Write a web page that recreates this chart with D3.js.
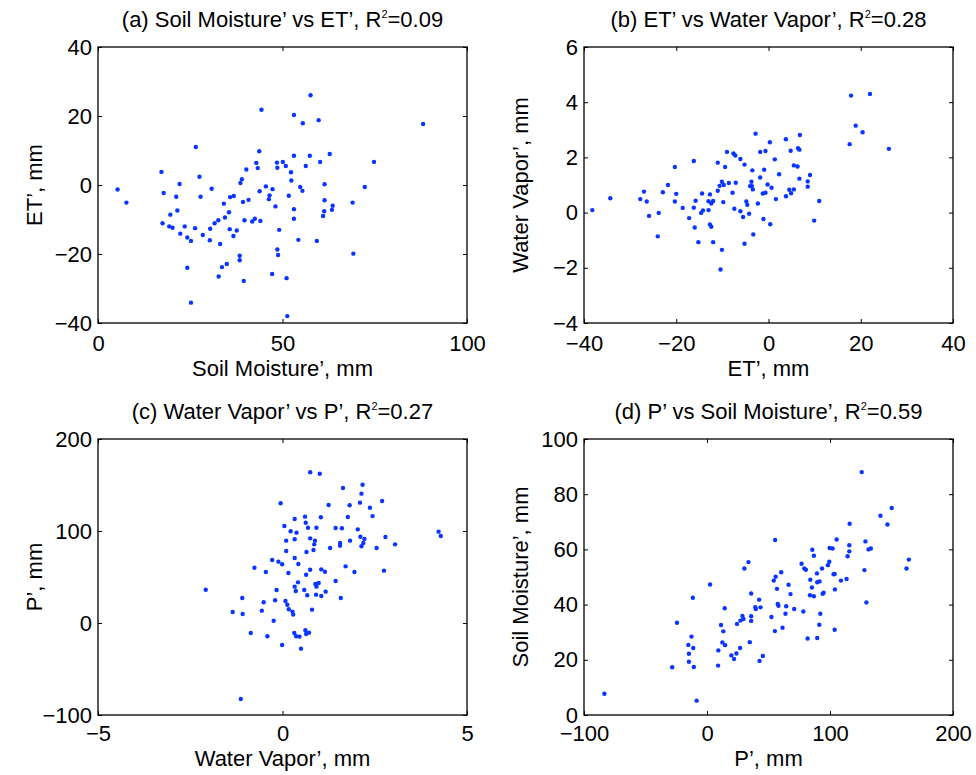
<!DOCTYPE html>
<html>
<head>
<meta charset="utf-8">
<script src="https://cdn.jsdelivr.net/npm/d3@7"></script>
<style>
  body { margin: 0; background: #fff; }
  text { font-family: "Liberation Sans", Arial, sans-serif; fill: #000; }
</style>
</head>
<body>
<svg id="chart" width="976" height="775"></svg>
<script>
// (a) soil moisture' vs ET'
const smEt = [
  [5.3,-1.3],[7.7,-5.1],[17.2,3.8],[17.8,-2.3],[17.5,-11.1],[19.3,-12.0],[20.2,-12.4],[19.6,-8.6],
  [22.1,0.3],[21.2,-3.4],[21.5,-7.4],[22.3,-14.1],[23.5,-12.0],[24.2,-15.2],[25.2,-16.2],[24.2,-24.0],
  [25.2,-34.1],[26.5,11.0],[27.5,2.4],[27.8,-3.4],[26.3,-12.5],[28.4,-14.5],[30.8,-1.1],[30.4,-12.7],
  [30.3,-16.0],[31.6,-11.1],[32.6,-10.2],[33.1,-17.1],[32.7,-26.5],[33.6,-23.8],[34.9,-22.9],[34.1,-5.4],
  [34.4,-9.4],[35.5,-7.9],[35.8,-3.5],[36.8,-3.2],[35.7,-12.8],[36.7,-14.8],[37.6,-13.2],[38.4,-20.5],
  [38.4,-21.8],[38.6,0.6],[39.0,1.7],[40.2,4.5],[39.3,-4.9],[39.7,-10.2],[39.5,-27.8],[40.8,-4.3],
  [41.8,-10.6],[42.5,-9.8],[44.0,-10.4],[42.9,6.4],[43.3,4.9],[43.7,9.8],[44.3,21.8],[43.8,-1.8],
  [45.5,-0.4],[46.5,-3.0],[46.3,-4.1],[47.3,-1.2],[48.1,-6.2],[48.5,6.5],[48.6,5.0],[49.1,-13.0],
  [48.6,-18.7],[48.8,-20.3],[47.2,-25.8],[50.1,6.7],[50.9,5.5],[52.3,3.7],[52.4,1.3],[51.7,-3.1],
  [53.1,8.5],[53.1,20.3],[55.5,17.9],[57.6,26.0],[59.8,18.8],[57.4,8.5],[56.3,5.5],[60.2,6.7],
  [62.8,9.0],[54.8,-0.6],[55.4,-1.7],[61.4,0.2],[53.1,-7.0],[53.1,-9.8],[61.4,-4.4],[61.3,-7.6],
  [61.0,-9.0],[63.6,-6.0],[63.4,-7.2],[54.3,-15.9],[59.3,-16.2],[51.1,-27.0],[51.3,-38.0],[69.0,-5.1],
  [72.3,-0.6],[74.8,6.7],[69.2,-19.9],[88.1,17.7]
];

// (b) ET' vs water vapor'
const etWv = [
  [-38.2,0.09],[-34.3,0.52],[-27.8,0.49],[-27.0,0.76],[-26.4,0.40],[-25.9,-0.12],[-24.0,-0.86],[-23.8,-0.01],
  [-22.9,0.74],[-21.8,1.0],[-20.3,1.65],[-20.0,0.68],[-20.3,0.40],[-18.6,0.17],[-17.2,-0.2],[-16.2,1.87],
  [-16.2,0.18],[-16.0,-0.54],[-15.8,0.43],[-15.2,-1.07],[-14.4,0.69],[-14.6,-0.01],[-14.2,0.08],[-13.0,0.09],
  [-13.0,0.41],[-12.7,0.66],[-12.7,-0.43],[-12.4,-0.51],[-12.4,0.33],[-12.0,0.42],[-12.0,-1.07],[-11.0,1.81],
  [-11.0,0.79],[-10.6,0.97],[-10.1,1.12],[-9.7,1.0],[-9.8,0.38],[-10.1,-1.35],[-10.4,-2.06],[-9.4,1.65],
  [-9.0,2.2],[-8.6,1.07],[-7.8,0.72],[-7.6,2.14],[-7.2,2.07],[-7.1,1.08],[-7.4,0.14],[-6.1,1.94],
  [-6.1,0.05],[-5.5,-0.16],[-5.2,-1.13],[-5.2,1.74],[-4.8,0.40],[-4.6,0.28],[-4.2,-0.04],[-4.0,0.96],
  [-3.7,1.12],[-3.6,0.96],[-3.5,1.53],[-3.4,0.84],[-3.3,-0.79],[-2.8,2.86],[-2.3,0.33],[-1.8,2.2],
  [-1.8,1.27],[-0.65,2.23],[-0.94,1.55],[-1.24,0.69],[-0.65,0.72],[-1.1,-0.23],[0.37,-0.42],[0.30,2.55],
  [1.37,1.93],[-0.2,1.02],[0.66,0.90],[1.6,0.49],[2.3,1.39],[3.77,2.66],[4.8,2.24],[4.5,0.83],
  [4.9,0.70],[5.5,0.84],[3.8,0.59],[5.5,1.71],[6.3,1.67],[6.4,2.33],[6.7,2.28],[6.8,2.81],
  [6.7,1.23],[8.5,1.13],[9.0,1.36],[8.5,0.94],[11.0,0.42],[9.9,-0.29],[17.6,2.48],[17.9,4.24],
  [18.9,3.15],[20.4,2.91],[22.0,4.30],[26.1,2.31]
];

// (c) water vapor' vs P'
const wvP = [
  [-2.08,36.2],[-1.13,-82.6],[-1.09,27.2],[-1.35,12.0],[-1.08,9.8],[-0.86,-10.9],[-0.76,60.1],[-0.51,22.5],
  [-0.56,13.4],[-0.45,55.4],[-0.41,-14.4],[-0.28,68.5],[-0.24,2.5],[-0.2,24.7],[-0.16,35.9],[-0.11,66.7],
  [-0.05,130.1],[-0.01,63.8],[-0.01,-23.9],[0.05,105.4],[0.10,89.5],[0.10,78.3],[0.08,23.9],[0.13,19.9],
  [0.17,14.9],[0.16,54.4],[0.22,99.7],[0.27,12.4],[0.29,9.3],[0.32,-10.9],[0.37,-14.4],[0.46,-14.8],
  [0.50,-27.9],[0.33,113.1],[0.33,91.0],[0.33,70.7],[0.38,98.2],[0.43,64.1],[0.33,39.5],[0.36,34.8],
  [0.42,44.2],[0.59,35.9],[0.61,115.6],[0.63,109.0],[0.69,103.6],[0.62,-7.9],[0.64,-11.9],[0.72,-10.5],
  [0.64,52.5],[0.65,77.2],[0.67,30.1],[0.75,163.8],[1.01,162.3],[0.75,92.0],[0.88,89.5],[0.86,85.5],
  [0.84,79.4],[0.92,103.6],[1.04,114.9],[0.75,57.9],[1.05,58.3],[1.15,55.7],[0.89,42.4],[0.92,39.5],
  [0.98,43.5],[0.91,30.8],[1.05,29.3],[1.17,34.1],[0.80,14.5],[1.25,128.3],[1.29,81.5],[1.44,103.3],
  [1.44,45.7],[1.58,27.2],[1.56,87.0],[1.56,84.1],[1.61,103.0],[1.64,146.7],[1.71,61.6],[1.77,115.2],
  [1.82,128.0],[1.83,89.5],[1.95,55.4],[2.04,101.8],[2.10,130.8],[2.14,140.6],[2.17,150.3],[2.11,93.8],
  [2.19,87.0],[2.22,91.4],[2.14,83.4],[2.37,125.3],[2.44,116.2],[2.55,81.5],[2.70,132.6],[2.79,93.5],
  [2.75,56.9],[3.05,85.5],[4.23,99.3],[4.29,94.6]
];

// (d) P' vs soil moisture'
const pSm = [
  [-83.4,7.7],[-28.3,17.3],[-24.4,33.4],[-15.2,25.4],[-14.7,22.2],[-14.7,19.3],[-12.6,28.4],[-11.5,42.5],
  [-11.2,24.3],[-10.7,17.4],[-8.4,5.2],[2.5,47.3],[9.2,23.4],[9.0,17.9],[11.4,32.6],[12.5,26.3],
  [13.3,30.3],[14.4,38.7],[14.7,25.3],[19.8,21.6],[22.0,20.3],[23.9,22.3],[24.4,33.0],[26.9,24.3],
  [27.2,34.2],[28.8,35.9],[29.6,34.8],[30.4,53.1],[33.7,55.4],[35.9,44.0],[35.9,35.8],[35.9,34.1],
  [34.8,26.4],[39.2,39.1],[39.7,38.4],[42.7,19.6],[42.4,41.8],[43.5,39.0],[45.4,21.4],[52.4,35.5],
  [55.4,63.4],[54.3,48.7],[55.8,50.1],[56.9,45.7],[60.3,51.7],[55.2,30.4],[57.5,40.2],[58.1,39.6],
  [61.4,31.6],[63.8,36.7],[64.4,39.4],[66.3,47.2],[67.9,43.8],[70.9,38.4],[78.3,37.5],[76.9,54.8],
  [79.1,53.1],[80.4,52.6],[81.8,27.7],[83.7,43.4],[84.0,49.0],[85.3,46.2],[85.6,59.9],[86.9,57.7],
  [86.9,43.0],[89.4,51.3],[89.6,48.1],[91.5,48.4],[89.6,27.9],[91.3,32.7],[92.1,36.7],[93.5,53.1],
  [94.0,43.9],[94.8,44.3],[98.3,54.3],[99.4,55.5],[99.7,60.5],[102.1,60.3],[102.9,51.0],[103.8,51.1],
  [103.8,30.9],[104.0,45.5],[105.4,63.6],[108.9,48.7],[113.5,49.3],[114.3,57.5],[115.7,59.3],[115.7,61.5],
  [116.0,69.3],[125.8,88.0],[128.0,52.5],[128.8,62.9],[129.6,40.8],[131.3,60.0],[133.2,60.3],[141.0,72.2],
  [146.7,69.0],[150.2,75.0],[162.2,53.1],[164.1,56.3]
];

// tick values
const ticksA = { x: [0, 50, 100], y: [-40, -20, 0, 20, 40] };
const ticksB = { x: [-40, -20, 0, 20, 40], y: [-4, -2, 0, 2, 4, 6] };
const ticksC = { x: [-5, 0, 5], y: [-100, 0, 100, 200] };
const ticksD = { x: [-100, 0, 100, 200], y: [0, 20, 40, 60, 80, 100] };

const titles = [
  ["(a) Soil Moisture’ vs ET’, R", "=0.09"],
  ["(b) ET’ vs Water Vapor’, R", "=0.28"],
  ["(c) Water Vapor’ vs P’, R", "=0.27"],
  ["(d) P’ vs Soil Moisture’, R", "=0.59"]
];
const xLabels = ["Soil Moisture’, mm", "ET’, mm", "Water Vapor’, mm", "P’, mm"];
const yLabels = ["ET’, mm", "Water Vapor’, mm", "P’, mm", "Soil Moisture’, mm"];

const svg = d3.select("#chart");
const W = 369, H = 276;
const FS = "22px";

const panels = [
  { left: 98,  top: 47,  data: smEt, ticks: ticksA },
  { left: 584, top: 47,  data: etWv, ticks: ticksB },
  { left: 98,  top: 439, data: wvP,  ticks: ticksC },
  { left: 584, top: 439, data: pSm,  ticks: ticksD }
];

panels.forEach(function(p, i) {
  let x = d3.scaleLinear().domain(d3.extent(p.ticks.x)).range([0, W]);
  let y = d3.scaleLinear().domain(d3.extent(p.ticks.y)).range([H, 0]);

  let g = svg.append("g").attr("transform", "translate(" + p.left + "," + p.top + ")");

  // ticks inside on all four sides, matlab style box
  let fmt = d3.format("");
  g.append("g").attr("transform", "translate(0," + H + ")")
    .call(d3.axisBottom(x).tickValues(p.ticks.x).tickSizeInner(-4).tickSizeOuter(0).tickPadding(i < 2 ? 12 : 10).tickFormat(fmt));
  g.append("g")
    .call(d3.axisTop(x).tickValues(p.ticks.x).tickSizeInner(-4).tickSizeOuter(0).tickFormat(""));
  g.append("g")
    .call(d3.axisLeft(y).tickValues(p.ticks.y).tickSizeInner(-4).tickSizeOuter(0).tickPadding(6).tickFormat(fmt));
  g.append("g").attr("transform", "translate(" + W + ",0)")
    .call(d3.axisRight(y).tickValues(p.ticks.y).tickSizeInner(-4).tickSizeOuter(0).tickFormat(""));

  g.selectAll(".domain").remove();
  g.selectAll(".tick line").attr("stroke", "#000");
  g.selectAll(".tick text").style("font-size", FS).attr("fill", "#000");

  g.append("rect")
    .attr("width", W).attr("height", H)
    .attr("fill", "none").attr("stroke", "#000").attr("stroke-width", 1.3);

  g.selectAll("circle")
    .data(p.data)
    .enter()
    .append("circle")
    .attr("cx", d => x(d[0]))
    .attr("cy", d => y(d[1]))
    .attr("r", 2.2)
    .attr("fill", "#0a34ff");

  let t = g.append("text")
    .attr("x", W / 2).attr("y", -20)
    .attr("text-anchor", "middle")
    .style("font-size", FS);
  t.append("tspan").text(titles[i][0]);
  t.append("tspan").attr("dy", -9).style("font-size", "11px").text("2");
  t.append("tspan").attr("dy", 9).text(titles[i][1]);

  g.append("text")
    .attr("x", W / 2).attr("y", H + (i < 2 ? 53 : 51))
    .attr("text-anchor", "middle")
    .style("font-size", FS)
    .text(xLabels[i]);

  g.append("text")
    .attr("transform", "translate(-56," + (H / 2) + ") rotate(-90)")
    .attr("text-anchor", "middle")
    .style("font-size", FS)
    .text(yLabels[i]);
});
</script>
</body>
</html>
